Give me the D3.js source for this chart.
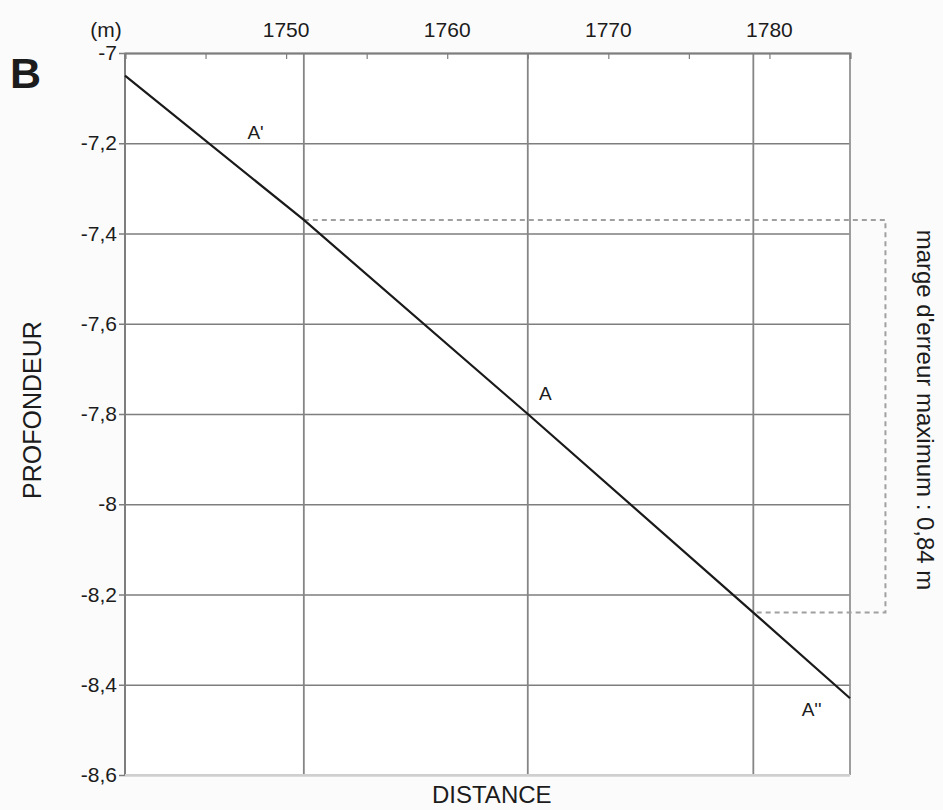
<!DOCTYPE html>
<html lang="fr">
<head>
<meta charset="utf-8">
<script src="https://d3js.org/d3.v7.min.js"></script>
<style>
  body { margin: 0; background: #fbfbfb; }
  text { font-family: "Liberation Sans", Arial, sans-serif; fill: #1c1c1c; }
</style>
</head>
<body>
<script>
// profile line (distance in m, depth in m)
var distance = [1740, 1751.1, 1765, 1779, 1785];
var depth = [-7.05, -7.37, -7.80, -8.24, -8.43];

// reference points A', A, A''
var pointNames = ["A'", "A", "A''"];
var pointDist = [1751.1, 1765, 1779];
var labelDist = [1747.6, 1765.7, 1782.0];
var labelDepth = [-7.19, -7.77, -8.47];

// error margin bracket
var errorTop = -7.37, errorBottom = -8.24, errorDist = 1787.2;
var errorText = "marge d'erreur maximum : 0,84 m";

var xLabels = [1750, 1760, 1770, 1780];
var xMinor = [1745, 1750, 1755, 1760, 1765, 1770, 1775, 1780];
var yTicks = [-7, -7.2, -7.4, -7.6, -7.8, -8, -8.2, -8.4, -8.6];

var width = 943, height = 810;
var margin = {left: 125, right: 93, top: 53, bottom: 35};

var svg = d3.select("body").append("svg")
    .attr("width", width)
    .attr("height", height);

var x = d3.scaleLinear()
    .domain([1740, 1785])
    .range([margin.left, width - margin.right]);

var y = d3.scaleLinear()
    .domain([-7, -8.6])
    .range([margin.top, height - margin.bottom]);

// plot background
svg.append("rect")
    .attr("x", x(1740)).attr("y", y(-7))
    .attr("width", x(1785) - x(1740))
    .attr("height", y(-8.6) - y(-7))
    .attr("fill", "#fff");

// horizontal grid + left ticks
var yAxis = d3.axisLeft(y)
    .tickValues(yTicks)
    .tickSize(-(x(1785) - x(1740)) - 6)
    .tickPadding(4)
    .tickFormat(function (d) { return String(d).replace(".", ","); });

var gy = svg.append("g")
    .attr("transform", "translate(" + (x(1740) - 6) + ",0)")
    .call(yAxis);
gy.select(".domain").remove();
gy.selectAll(".tick line")
    .attr("x1", 0)
    .attr("x2", x(1785) - x(1740) + 6)
    .attr("stroke", "#7e7e7e")
    .attr("stroke-width", 1.6);
gy.selectAll(".tick text")
    .attr("x", -2)
    .style("font-size", "21px")
    .style("font-family", "'Liberation Sans', Arial, sans-serif")
    .attr("fill", "#1c1c1c");

// vertical reference lines through A', A, A''
svg.append("g").selectAll("line")
    .data(pointDist)
    .enter().append("line")
    .attr("x1", function (d) { return x(d); })
    .attr("x2", function (d) { return x(d); })
    .attr("y1", y(-7))
    .attr("y2", y(-8.6))
    .attr("stroke", "#858585")
    .attr("stroke-width", 1.8);

// frame
svg.append("line")
    .attr("x1", x(1740)).attr("x2", x(1740))
    .attr("y1", y(-7)).attr("y2", y(-8.6))
    .attr("stroke", "#7e7e7e").attr("stroke-width", 2);
svg.append("line")
    .attr("x1", x(1785)).attr("x2", x(1785))
    .attr("y1", y(-7)).attr("y2", y(-8.6))
    .attr("stroke", "#939393").attr("stroke-width", 1.8);
svg.append("line")
    .attr("x1", x(1740)).attr("x2", x(1785))
    .attr("y1", y(-8.6)).attr("y2", y(-8.6))
    .attr("stroke", "#cfcfcf").attr("stroke-width", 2);

// top axis with inward minor ticks
var xAxis = d3.axisTop(x)
    .tickValues(xMinor)
    .tickSize(-6)
    .tickFormat("");
var gx = svg.append("g")
    .attr("transform", "translate(0," + y(-7) + ")")
    .call(xAxis);
gx.select(".domain")
    .attr("stroke", "#7e7e7e").attr("stroke-width", 2.2);
gx.selectAll(".tick line").attr("stroke", "#7e7e7e").attr("stroke-width", 1.2);

svg.append("g").selectAll("text")
    .data(xLabels)
    .enter().append("text")
    .attr("x", function (d) { return x(d); })
    .attr("y", 37)
    .attr("text-anchor", "middle")
    .style("font-size", "21px")
    .text(function (d) { return d; });

svg.append("text")
    .attr("x", 106).attr("y", 37)
    .attr("text-anchor", "middle")
    .style("font-size", "21px")
    .text("(m)");

// error margin bracket
svg.append("path")
    .attr("d", "M" + x(pointDist[0]) + "," + y(errorTop) +
        "H" + x(errorDist) + "V" + y(errorBottom) +
        "H" + x(pointDist[2]))
    .attr("fill", "none")
    .attr("stroke", "#a0a0a0")
    .attr("stroke-width", 2)
    .attr("stroke-dasharray", "5,4");

// profile line
var line = d3.line()
    .x(function (d) { return x(d[0]); })
    .y(function (d) { return y(d[1]); });

svg.append("path")
    .datum(d3.zip(distance, depth))
    .attr("d", line)
    .attr("fill", "none")
    .attr("stroke", "#1a1a1a")
    .attr("stroke-width", 2.2);

// point labels
svg.append("g").selectAll("text")
    .data(pointNames)
    .enter().append("text")
    .attr("x", function (d, i) { return x(labelDist[i]); })
    .attr("y", function (d, i) { return y(labelDepth[i]); })
    .style("font-size", "19px")
    .text(function (d) { return d; });

// axis titles
svg.append("text")
    .attr("x", x(1765) - 36).attr("y", 803)
    .attr("text-anchor", "middle")
    .style("font-size", "24px")
    .text("DISTANCE");

svg.append("text")
    .attr("transform", "translate(41,410) rotate(-90)")
    .attr("text-anchor", "middle")
    .style("font-size", "25px")
    .text("PROFONDEUR");

svg.append("text")
    .attr("transform", "translate(917,410) rotate(90)")
    .attr("text-anchor", "middle")
    .style("font-size", "24px")
    .text(errorText);

svg.append("text")
    .attr("x", 10).attr("y", 88)
    .style("font-size", "43px")
    .style("font-weight", "bold")
    .text("B");
</script>
</body>
</html>
